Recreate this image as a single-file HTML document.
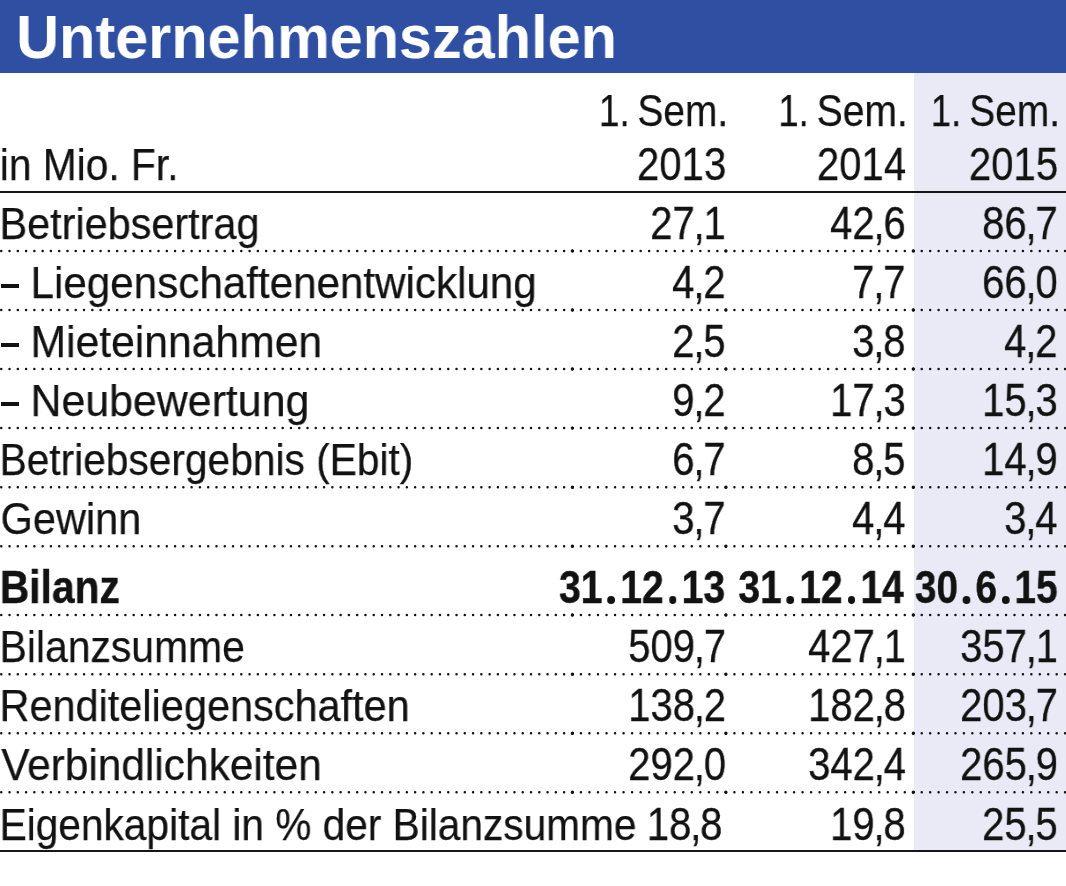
<!DOCTYPE html>
<html><head><meta charset="utf-8"><title>Unternehmenszahlen</title>
<style>
html,body{margin:0;padding:0;background:#fff;}
body{width:1066px;height:886px;position:relative;overflow:hidden;font-family:"Liberation Sans",sans-serif;}
.hd{position:absolute;left:0;top:0;width:1066px;height:72.5px;background:#2f4fa3;}
.sh{position:absolute;left:913.5px;top:72.5px;width:152.5px;height:778.5px;background:#e9eaf5;}
.sl{position:absolute;left:0;width:1066px;height:2.2px;background:#151515;}
.dots{position:absolute;left:0;top:0;}
.t{position:absolute;white-space:nowrap;line-height:1;margin:0;padding:0;will-change:transform;}
.l{transform-origin:0 0;}
.r{transform-origin:100% 0;}
.b{font-weight:bold;}
.t i{font-style:normal;margin:0 -1.39px;}
.n{-webkit-text-stroke:0.3px #121212;}
.t u{text-decoration:none;position:relative;color:transparent;-webkit-text-stroke:0;margin:0 3.9px;}
.t u::after{content:"";position:absolute;left:50%;bottom:0.205em;width:8.8px;height:7.6px;margin-left:-4.4px;border-radius:50%;background:#121212;}
.b{-webkit-text-stroke:0.4px #121212;}
.w{-webkit-text-stroke:0;}
.lb{-webkit-text-stroke:0.25px #121212;}
.da{position:absolute;left:0.8px;width:18.7px;height:3.5px;background:#121212;font-size:0;line-height:0;overflow:hidden;}
</style></head>
<body>
<div class="hd"></div>
<div class="sh"></div>
<div class="sl" style="top:190.85px"></div>
<div class="sl" style="top:850.10px"></div>
<svg class="dots" width="1066" height="886" viewBox="0 0 1066 886"><g stroke="#111" stroke-width="2.5" stroke-linecap="round" fill="none"><line x1="1.25" y1="250.90" x2="572.90" y2="250.90" stroke-dasharray="0 8.2775"/><line x1="572.40" y1="250.90" x2="726.40" y2="250.90" stroke-dasharray="0 8.5278"/><line x1="725.90" y1="250.90" x2="913.80" y2="250.90" stroke-dasharray="0 8.5182"/><line x1="913.30" y1="250.90" x2="1065.60" y2="250.90" stroke-dasharray="0 8.4333"/><circle cx="572.4" cy="250.90" r="0.9" fill="#111" stroke-width="1.6"/><circle cx="725.9" cy="250.90" r="0.9" fill="#111" stroke-width="1.6"/><circle cx="913.3" cy="250.90" r="0.9" fill="#111" stroke-width="1.6"/><line x1="1.25" y1="310.00" x2="572.90" y2="310.00" stroke-dasharray="0 8.2775"/><line x1="572.40" y1="310.00" x2="726.40" y2="310.00" stroke-dasharray="0 8.5278"/><line x1="725.90" y1="310.00" x2="913.80" y2="310.00" stroke-dasharray="0 8.5182"/><line x1="913.30" y1="310.00" x2="1065.60" y2="310.00" stroke-dasharray="0 8.4333"/><circle cx="572.4" cy="310.00" r="0.9" fill="#111" stroke-width="1.6"/><circle cx="725.9" cy="310.00" r="0.9" fill="#111" stroke-width="1.6"/><circle cx="913.3" cy="310.00" r="0.9" fill="#111" stroke-width="1.6"/><line x1="1.25" y1="369.05" x2="572.90" y2="369.05" stroke-dasharray="0 8.2775"/><line x1="572.40" y1="369.05" x2="726.40" y2="369.05" stroke-dasharray="0 8.5278"/><line x1="725.90" y1="369.05" x2="913.80" y2="369.05" stroke-dasharray="0 8.5182"/><line x1="913.30" y1="369.05" x2="1065.60" y2="369.05" stroke-dasharray="0 8.4333"/><circle cx="572.4" cy="369.05" r="0.9" fill="#111" stroke-width="1.6"/><circle cx="725.9" cy="369.05" r="0.9" fill="#111" stroke-width="1.6"/><circle cx="913.3" cy="369.05" r="0.9" fill="#111" stroke-width="1.6"/><line x1="1.25" y1="428.10" x2="572.90" y2="428.10" stroke-dasharray="0 8.2775"/><line x1="572.40" y1="428.10" x2="726.40" y2="428.10" stroke-dasharray="0 8.5278"/><line x1="725.90" y1="428.10" x2="913.80" y2="428.10" stroke-dasharray="0 8.5182"/><line x1="913.30" y1="428.10" x2="1065.60" y2="428.10" stroke-dasharray="0 8.4333"/><circle cx="572.4" cy="428.10" r="0.9" fill="#111" stroke-width="1.6"/><circle cx="725.9" cy="428.10" r="0.9" fill="#111" stroke-width="1.6"/><circle cx="913.3" cy="428.10" r="0.9" fill="#111" stroke-width="1.6"/><line x1="1.25" y1="487.20" x2="572.90" y2="487.20" stroke-dasharray="0 8.2775"/><line x1="572.40" y1="487.20" x2="726.40" y2="487.20" stroke-dasharray="0 8.5278"/><line x1="725.90" y1="487.20" x2="913.80" y2="487.20" stroke-dasharray="0 8.5182"/><line x1="913.30" y1="487.20" x2="1065.60" y2="487.20" stroke-dasharray="0 8.4333"/><circle cx="572.4" cy="487.20" r="0.9" fill="#111" stroke-width="1.6"/><circle cx="725.9" cy="487.20" r="0.9" fill="#111" stroke-width="1.6"/><circle cx="913.3" cy="487.20" r="0.9" fill="#111" stroke-width="1.6"/><line x1="1.25" y1="546.25" x2="572.90" y2="546.25" stroke-dasharray="0 8.2775"/><line x1="572.40" y1="546.25" x2="726.40" y2="546.25" stroke-dasharray="0 8.5278"/><line x1="725.90" y1="546.25" x2="913.80" y2="546.25" stroke-dasharray="0 8.5182"/><line x1="913.30" y1="546.25" x2="1065.60" y2="546.25" stroke-dasharray="0 8.4333"/><circle cx="572.4" cy="546.25" r="0.9" fill="#111" stroke-width="1.6"/><circle cx="725.9" cy="546.25" r="0.9" fill="#111" stroke-width="1.6"/><circle cx="913.3" cy="546.25" r="0.9" fill="#111" stroke-width="1.6"/><line x1="1.25" y1="615.05" x2="572.90" y2="615.05" stroke-dasharray="0 8.2775"/><line x1="572.40" y1="615.05" x2="726.40" y2="615.05" stroke-dasharray="0 8.5278"/><line x1="725.90" y1="615.05" x2="913.80" y2="615.05" stroke-dasharray="0 8.5182"/><line x1="913.30" y1="615.05" x2="1065.60" y2="615.05" stroke-dasharray="0 8.4333"/><circle cx="572.4" cy="615.05" r="0.9" fill="#111" stroke-width="1.6"/><circle cx="725.9" cy="615.05" r="0.9" fill="#111" stroke-width="1.6"/><circle cx="913.3" cy="615.05" r="0.9" fill="#111" stroke-width="1.6"/><line x1="1.25" y1="674.15" x2="572.90" y2="674.15" stroke-dasharray="0 8.2775"/><line x1="572.40" y1="674.15" x2="726.40" y2="674.15" stroke-dasharray="0 8.5278"/><line x1="725.90" y1="674.15" x2="913.80" y2="674.15" stroke-dasharray="0 8.5182"/><line x1="913.30" y1="674.15" x2="1065.60" y2="674.15" stroke-dasharray="0 8.4333"/><circle cx="572.4" cy="674.15" r="0.9" fill="#111" stroke-width="1.6"/><circle cx="725.9" cy="674.15" r="0.9" fill="#111" stroke-width="1.6"/><circle cx="913.3" cy="674.15" r="0.9" fill="#111" stroke-width="1.6"/><line x1="1.25" y1="733.20" x2="572.90" y2="733.20" stroke-dasharray="0 8.2775"/><line x1="572.40" y1="733.20" x2="726.40" y2="733.20" stroke-dasharray="0 8.5278"/><line x1="725.90" y1="733.20" x2="913.80" y2="733.20" stroke-dasharray="0 8.5182"/><line x1="913.30" y1="733.20" x2="1065.60" y2="733.20" stroke-dasharray="0 8.4333"/><circle cx="572.4" cy="733.20" r="0.9" fill="#111" stroke-width="1.6"/><circle cx="725.9" cy="733.20" r="0.9" fill="#111" stroke-width="1.6"/><circle cx="913.3" cy="733.20" r="0.9" fill="#111" stroke-width="1.6"/><line x1="1.25" y1="792.30" x2="572.90" y2="792.30" stroke-dasharray="0 8.2775"/><line x1="572.40" y1="792.30" x2="726.40" y2="792.30" stroke-dasharray="0 8.5278"/><line x1="725.90" y1="792.30" x2="913.80" y2="792.30" stroke-dasharray="0 8.5182"/><line x1="913.30" y1="792.30" x2="1065.60" y2="792.30" stroke-dasharray="0 8.4333"/><circle cx="572.4" cy="792.30" r="0.9" fill="#111" stroke-width="1.6"/><circle cx="725.9" cy="792.30" r="0.9" fill="#111" stroke-width="1.6"/><circle cx="913.3" cy="792.30" r="0.9" fill="#111" stroke-width="1.6"/></g></svg>
<div class="da" style="top:284.25px">–</div>
<div class="da" style="top:343.25px">–</div>
<div class="da" style="top:402.25px">–</div>
<div id="t0" class="t l b w" style="left:0;top:6px;font-size:62.00px;color:#ffffff;transform:translateX(16.17px) scaleX(0.9580)">Unternehmenszahlen</div>
<div id="t1" class="t l lb" style="left:0;top:142px;font-size:45.00px;color:#121212;transform:translateX(-0.22px) scaleX(0.9045)">in Mio. Fr.</div>
<div id="t2" class="t r lb" style="right:0;top:88px;font-size:45.00px;color:#121212;transform:translateX(-435.86px) scaleX(0.8189)">1.</div>
<div id="t3" class="t r lb" style="right:0;top:88px;font-size:45.00px;color:#121212;transform:translateX(-337.83px) scaleX(0.8644)">Sem.</div>
<div id="t4" class="t r n" style="right:0;top:142px;font-size:45.50px;color:#121212;transform:translateX(-340.00px) scaleX(0.8815)">2013</div>
<div id="t5" class="t r lb" style="right:0;top:88px;font-size:45.00px;color:#121212;transform:translateX(-256.82px) scaleX(0.8097)">1.</div>
<div id="t6" class="t r lb" style="right:0;top:88px;font-size:45.00px;color:#121212;transform:translateX(-158.19px) scaleX(0.8677)">Sem.</div>
<div id="t7" class="t r n" style="right:0;top:142px;font-size:45.50px;color:#121212;transform:translateX(-160.10px) scaleX(0.8815)">2014</div>
<div id="t8" class="t r lb" style="right:0;top:88px;font-size:45.00px;color:#121212;transform:translateX(-104.30px) scaleX(0.8091)">1.</div>
<div id="t9" class="t r lb" style="right:0;top:88px;font-size:45.00px;color:#121212;transform:translateX(-5.93px) scaleX(0.8656)">Sem.</div>
<div id="t10" class="t r n" style="right:0;top:142px;font-size:45.50px;color:#121212;transform:translateX(-8.10px) scaleX(0.8815)">2015</div>
<div id="t11" class="t l lb" style="left:0;top:201px;font-size:45.00px;color:#121212;transform:translateX(-0.44px) scaleX(0.9200)">Betriebsertrag</div>
<div id="t12" class="t r n" style="right:0;top:201px;font-size:45.50px;color:#121212;transform:translateX(-340.00px) scaleX(0.8815)">27<i>,</i>1</div>
<div id="t13" class="t r n" style="right:0;top:201px;font-size:45.50px;color:#121212;transform:translateX(-160.10px) scaleX(0.8815)">42<i>,</i>6</div>
<div id="t14" class="t r n" style="right:0;top:201px;font-size:45.50px;color:#121212;transform:translateX(-8.10px) scaleX(0.8815)">86<i>,</i>7</div>
<div id="t15" class="t l lb" style="left:0;top:260px;font-size:45.00px;color:#121212;transform:translateX(30.58px) scaleX(0.9367)">Liegenschaftenentwicklung</div>
<div id="t16" class="t r n" style="right:0;top:260px;font-size:45.50px;color:#121212;transform:translateX(-340.00px) scaleX(0.8815)">4<i>,</i>2</div>
<div id="t17" class="t r n" style="right:0;top:260px;font-size:45.50px;color:#121212;transform:translateX(-160.10px) scaleX(0.8815)">7<i>,</i>7</div>
<div id="t18" class="t r n" style="right:0;top:260px;font-size:45.50px;color:#121212;transform:translateX(-8.10px) scaleX(0.8815)">66<i>,</i>0</div>
<div id="t19" class="t l lb" style="left:0;top:319px;font-size:45.00px;color:#121212;transform:translateX(30.54px) scaleX(0.9475)">Mieteinnahmen</div>
<div id="t20" class="t r n" style="right:0;top:319px;font-size:45.50px;color:#121212;transform:translateX(-340.00px) scaleX(0.8815)">2<i>,</i>5</div>
<div id="t21" class="t r n" style="right:0;top:319px;font-size:45.50px;color:#121212;transform:translateX(-160.10px) scaleX(0.8815)">3<i>,</i>8</div>
<div id="t22" class="t r n" style="right:0;top:319px;font-size:45.50px;color:#121212;transform:translateX(-8.10px) scaleX(0.8815)">4<i>,</i>2</div>
<div id="t23" class="t l lb" style="left:0;top:378px;font-size:45.00px;color:#121212;transform:translateX(30.53px) scaleX(0.9525)">Neubewertung</div>
<div id="t24" class="t r n" style="right:0;top:378px;font-size:45.50px;color:#121212;transform:translateX(-340.00px) scaleX(0.8815)">9<i>,</i>2</div>
<div id="t25" class="t r n" style="right:0;top:378px;font-size:45.50px;color:#121212;transform:translateX(-160.10px) scaleX(0.8815)">17<i>,</i>3</div>
<div id="t26" class="t r n" style="right:0;top:378px;font-size:45.50px;color:#121212;transform:translateX(-8.10px) scaleX(0.8815)">15<i>,</i>3</div>
<div id="t27" class="t l lb" style="left:0;top:437px;font-size:45.00px;color:#121212;transform:translateX(-0.38px) scaleX(0.9037)">Betriebsergebnis (Ebit)</div>
<div id="t28" class="t r n" style="right:0;top:437px;font-size:45.50px;color:#121212;transform:translateX(-340.00px) scaleX(0.8815)">6<i>,</i>7</div>
<div id="t29" class="t r n" style="right:0;top:437px;font-size:45.50px;color:#121212;transform:translateX(-160.10px) scaleX(0.8815)">8<i>,</i>5</div>
<div id="t30" class="t r n" style="right:0;top:437px;font-size:45.50px;color:#121212;transform:translateX(-8.10px) scaleX(0.8815)">14<i>,</i>9</div>
<div id="t31" class="t l lb" style="left:0;top:496px;font-size:45.00px;color:#121212;transform:translateX(0.57px) scaleX(0.9226)">Gewinn</div>
<div id="t32" class="t r n" style="right:0;top:496px;font-size:45.50px;color:#121212;transform:translateX(-340.00px) scaleX(0.8815)">3<i>,</i>7</div>
<div id="t33" class="t r n" style="right:0;top:496px;font-size:45.50px;color:#121212;transform:translateX(-160.10px) scaleX(0.8815)">4<i>,</i>4</div>
<div id="t34" class="t r n" style="right:0;top:496px;font-size:45.50px;color:#121212;transform:translateX(-8.10px) scaleX(0.8815)">3<i>,</i>4</div>
<div id="t35" class="t l lb" style="left:0;top:624px;font-size:45.00px;color:#121212;transform:translateX(-0.40px) scaleX(0.9084)">Bilanzsumme</div>
<div id="t36" class="t r n" style="right:0;top:624px;font-size:45.50px;color:#121212;transform:translateX(-340.00px) scaleX(0.8815)">509<i>,</i>7</div>
<div id="t37" class="t r n" style="right:0;top:624px;font-size:45.50px;color:#121212;transform:translateX(-160.10px) scaleX(0.8815)">427<i>,</i>1</div>
<div id="t38" class="t r n" style="right:0;top:624px;font-size:45.50px;color:#121212;transform:translateX(-8.10px) scaleX(0.8815)">357<i>,</i>1</div>
<div id="t39" class="t l lb" style="left:0;top:683px;font-size:45.00px;color:#121212;transform:translateX(-0.44px) scaleX(0.9210)">Renditeliegenschaften</div>
<div id="t40" class="t r n" style="right:0;top:683px;font-size:45.50px;color:#121212;transform:translateX(-340.00px) scaleX(0.8815)">138<i>,</i>2</div>
<div id="t41" class="t r n" style="right:0;top:683px;font-size:45.50px;color:#121212;transform:translateX(-160.10px) scaleX(0.8815)">182<i>,</i>8</div>
<div id="t42" class="t r n" style="right:0;top:683px;font-size:45.50px;color:#121212;transform:translateX(-8.10px) scaleX(0.8815)">203<i>,</i>7</div>
<div id="t43" class="t l lb" style="left:0;top:742px;font-size:45.00px;color:#121212;transform:translateX(1.28px) scaleX(0.9417)">Verbindlichkeiten</div>
<div id="t44" class="t r n" style="right:0;top:742px;font-size:45.50px;color:#121212;transform:translateX(-340.00px) scaleX(0.8815)">292<i>,</i>0</div>
<div id="t45" class="t r n" style="right:0;top:742px;font-size:45.50px;color:#121212;transform:translateX(-160.10px) scaleX(0.8815)">342<i>,</i>4</div>
<div id="t46" class="t r n" style="right:0;top:742px;font-size:45.50px;color:#121212;transform:translateX(-8.10px) scaleX(0.8815)">265<i>,</i>9</div>
<div id="t47" class="t l lb" style="left:0;top:802px;font-size:45.00px;color:#121212;transform:translateX(-0.38px) scaleX(0.9030)">Eigenkapital in % der Bilanzsumme</div>
<div id="t48" class="t r n" style="right:0;top:802px;font-size:45.50px;color:#121212;transform:translateX(-343.40px) scaleX(0.8815)">18<i>,</i>8</div>
<div id="t49" class="t r n" style="right:0;top:802px;font-size:45.50px;color:#121212;transform:translateX(-160.10px) scaleX(0.8815)">19<i>,</i>8</div>
<div id="t50" class="t r n" style="right:0;top:802px;font-size:45.50px;color:#121212;transform:translateX(-8.10px) scaleX(0.8815)">25<i>,</i>5</div>
<div id="t51" class="t l b" style="left:0;top:565px;font-size:45.50px;color:#121212;transform:translateX(-0.17px) scaleX(0.8954)">Bilanz</div>
<div id="t52" class="t r b" style="right:0;top:565px;font-size:45.50px;color:#121212;transform:translateX(-340.65px) scaleX(0.8620)">31<u>.</u>12<u>.</u>13</div>
<div id="t53" class="t r b" style="right:0;top:565px;font-size:45.50px;color:#121212;transform:translateX(-162.10px) scaleX(0.8576)">31<u>.</u>12<u>.</u>14</div>
<div id="t54" class="t r b" style="right:0;top:565px;font-size:45.50px;color:#121212;transform:translateX(-8.70px) scaleX(0.8534)">30<u>.</u>6<u>.</u>15</div>
</body></html>
